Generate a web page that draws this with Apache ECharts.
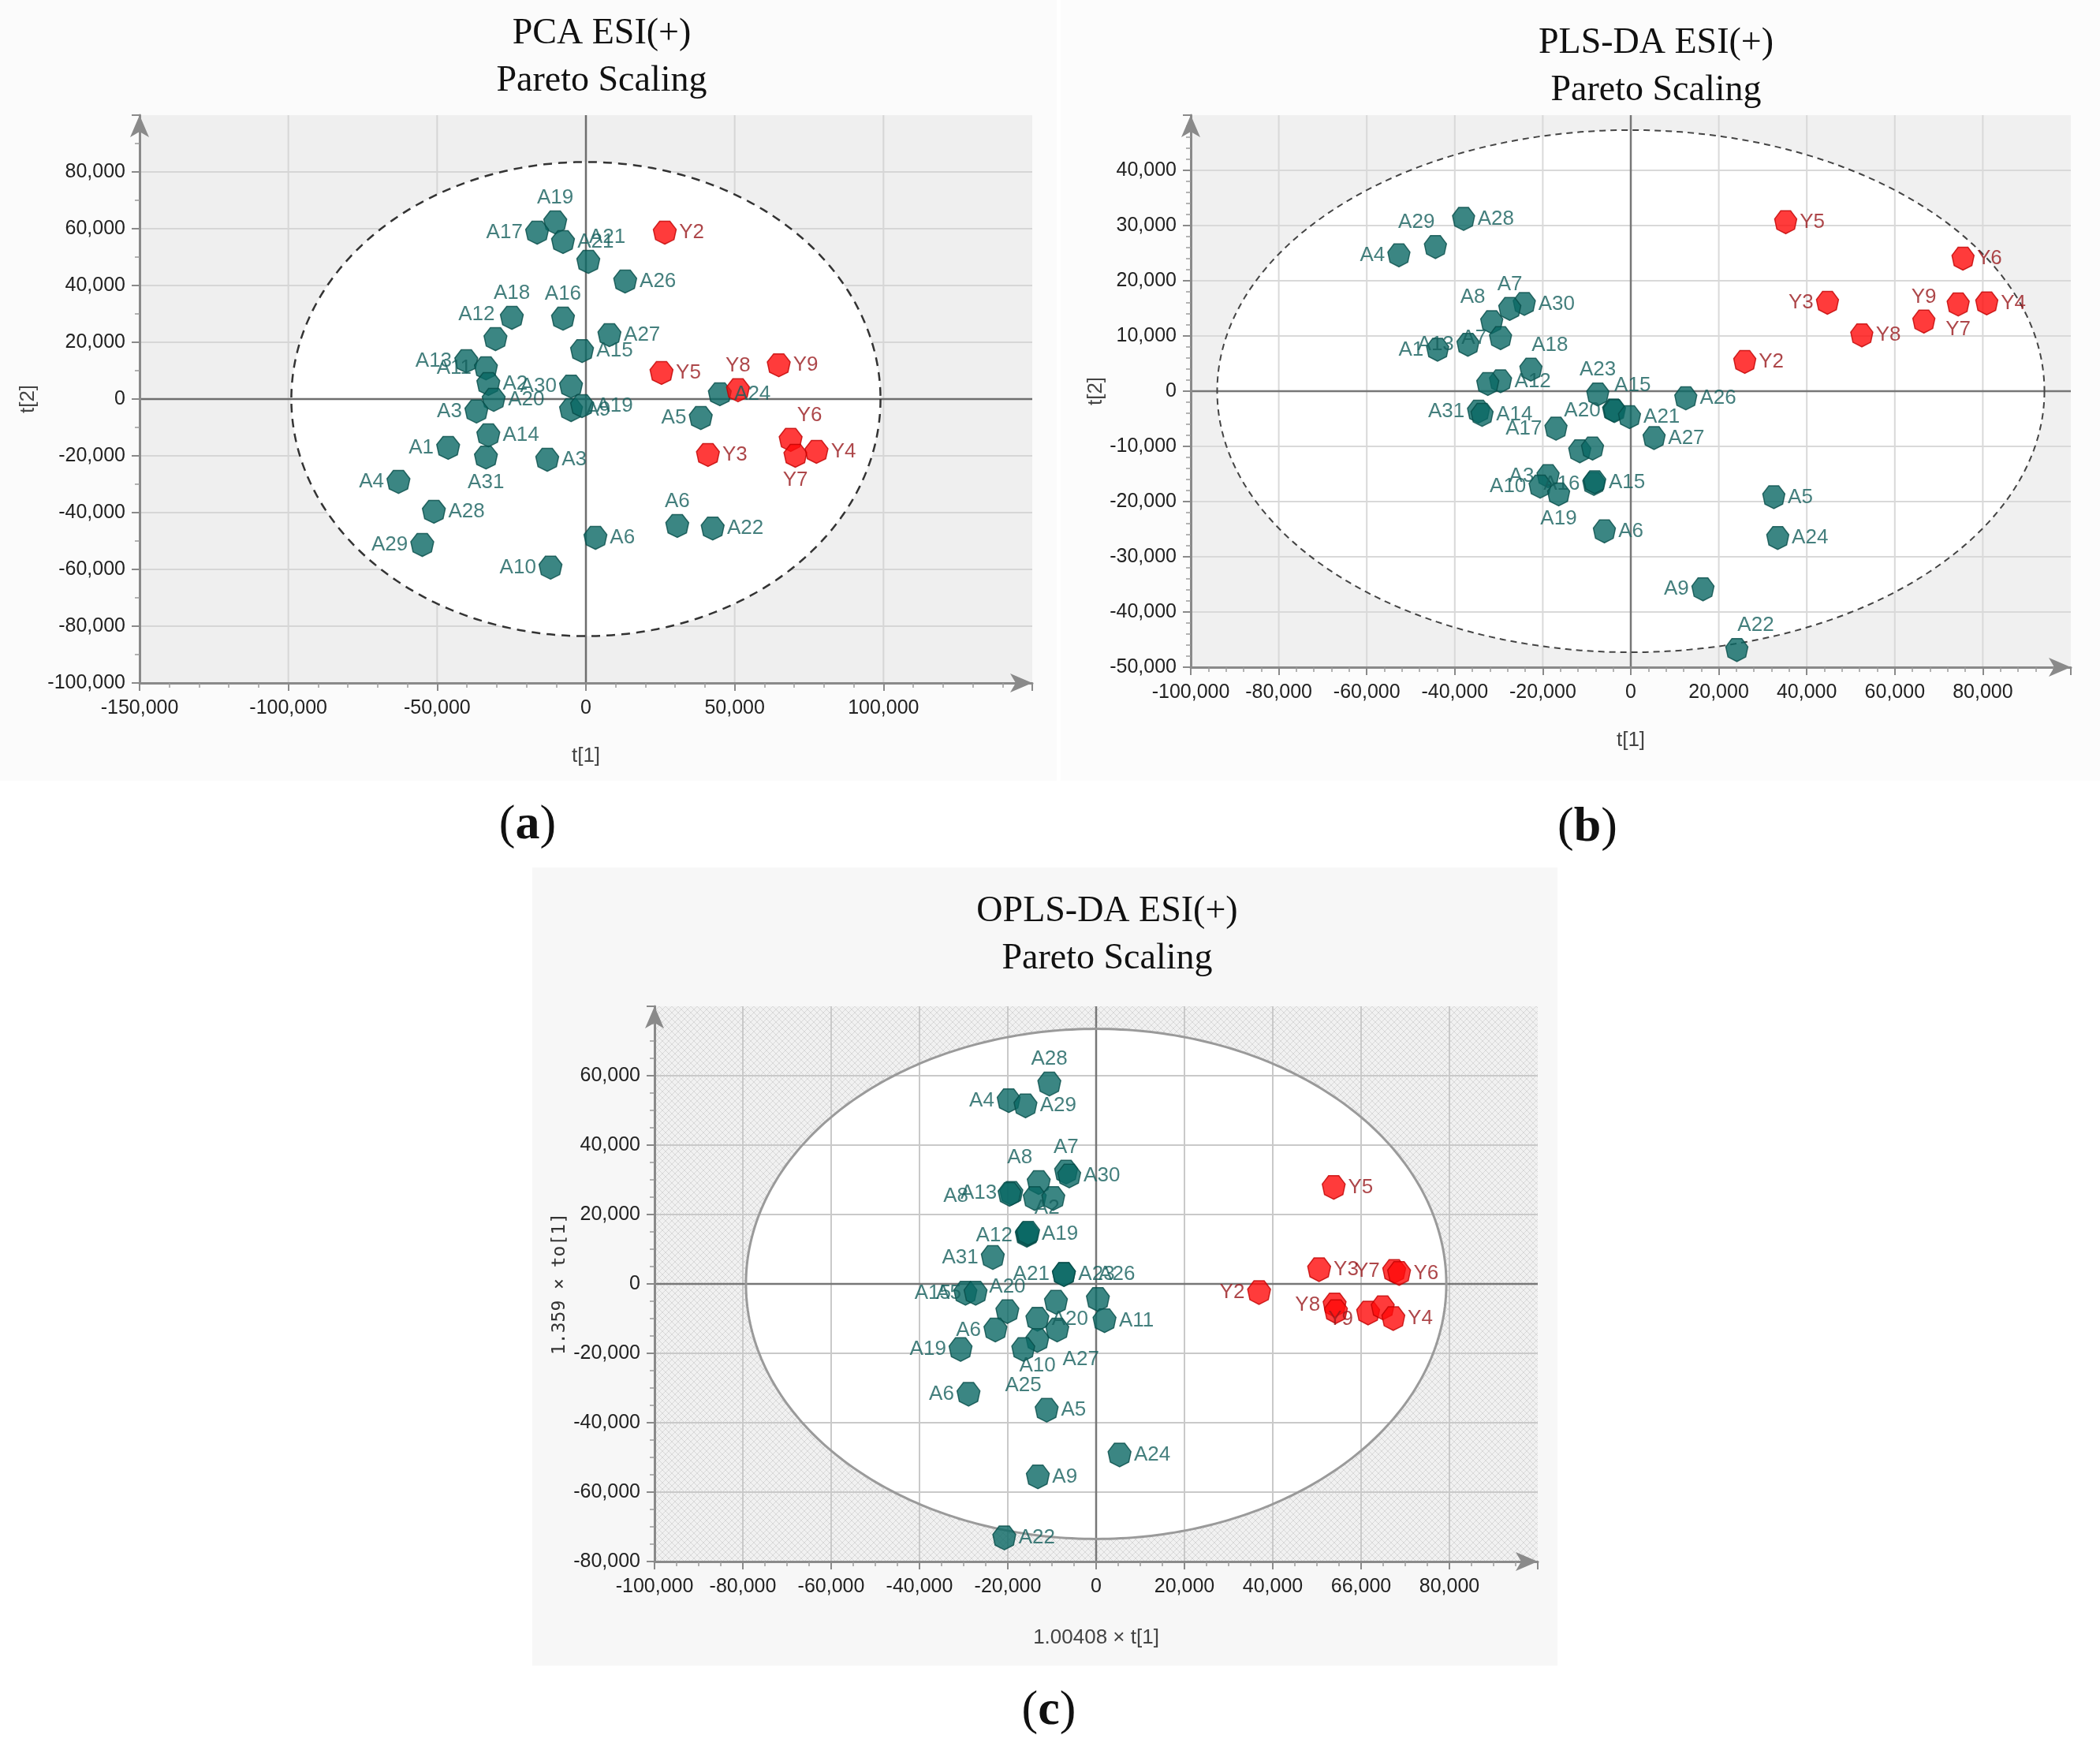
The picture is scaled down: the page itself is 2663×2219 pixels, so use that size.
<!DOCTYPE html>
<html><head><meta charset="utf-8">
<script src="https://cdn.jsdelivr.net/npm/echarts@6/dist/echarts.min.js"></script>
<style>html,body{margin:0;padding:0;background:#fff}#c{width:2663px;height:2219px}</style>
</head><body><div id="c"></div>
<script>
// ---------- DATA ----------
// (a) PCA ESI(+) scores
const pcaNames = ['A19','A17','A21','A21','A26','A18','A12','A16','A15','A27','A13','A11','A2','A20','A30','A3','A14','A31','A1','A3','A9','A19','A5','A24','A6','A22','A4','A28','A29','A6','A10','Y2','Y5','Y8','Y9','Y3','Y6','Y7','Y4'];
const pcaT1 = [-10300,-16400,-7700,800,13200,-24900,-30400,-7700,-1300,7900,-40200,-33600,-32800,-31000,-5000,-36800,-32800,-33600,-46300,-13000,-5000,-1300,38600,45000,30700,42600,-63000,-51100,-55000,3200,-11900,26500,25400,51100,64800,41000,68800,70400,77500];
const pcaT2 = [62200,58600,55300,48300,41400,28600,21100,28300,16900,22500,13300,10800,5300,-300,4400,-4400,-12800,-20600,-17200,-21400,-3900,-2500,-6700,1700,-44700,-45600,-29200,-39700,-51400,-48900,-59400,58600,9200,3100,11900,-19700,-14400,-20000,-18600];
const pcaLabelPos = ['t','l','r','tr','r','t','tl','t','r','r','l','l','r','r','l','l','r','b','l','r','r','r','l','r','t','r','l','r','l','r','l','r','r','t','r','r','tr','b','r'];
const pcaEllipse = [0, 0, 99000, 83500];   // centre t1, centre t2, half-width, half-height

// (b) PLS-DA ESI(+) scores
const plsNames = ['A29','A28','A4','A30','A7','A8','A13','A1','A7','A18','A12','A2','A31','A14','A23','A15','A20','A21','A26','A17','A27','A25','A11','A3','A10','A19','A16','A15','A6','A5','A24','A9','A22','Y5','Y6','Y3','Y9','Y7','Y4','Y8','Y2'];
const plsT1 = [-44400,-38000,-52700,-24200,-27500,-31600,-37000,-43900,-29600,-22700,-29600,-32500,-34600,-33800,-7500,-3900,-3700,-300,12500,-17000,5300,-11600,-8700,-18800,-20600,-16400,-8400,-8200,-6000,32500,33400,16400,24100,35200,75500,44700,66600,74400,80900,52500,25900];
const plsT2 = [26100,31200,24600,15800,14900,12500,8400,7500,9600,3900,1800,1300,-3700,-4300,-600,-3500,-3600,-4700,-1300,-6800,-8500,-10900,-10400,-15400,-17300,-18700,-16800,-16500,-25400,-19200,-26600,-35900,-46900,30600,24000,16000,12600,15700,15900,10100,5300];
const plsLabelPos = ['tl','r','l','r','t','tl','l','l','l','tr','r','h','l','r','t','tr','l','r','r','l','r','h','h','l','l','b','l','r','r','r','r','l','tr','r','r','l','t','b','r','r','r'];
const plsEllipse = [0, 0, 94000, 47300];

// (c) OPLS-DA ESI(+) scores
const oplsNames = ['A28','A4','A29','A7','A30','A8','A13','A8','A16','A14','A12','A19','A2','A31','A21','A23','A26','A11','A15','A5','A20','A6','A19','A20','A3','A27','A10','A25','A6','A5','A24','A9','A22','Y5','Y2','Y3','Y7','Y6','Y8','Y9','Y','Y','Y4'];
const oplsT1 = [-10600,-19800,-16000,-6800,-6100,-13000,-19200,-19600,-13900,-9700,-15700,-15600,-15400,-23400,-7300,-7300,400,1900,-29600,-27300,-20100,-22800,-30700,-13300,-9100,-8800,-13300,-16500,-28900,-11200,5300,-13200,-20800,53800,36900,50500,67500,68600,54000,54300,61600,64900,67300];
const oplsTo1 = [57600,52800,51300,32200,31100,29200,26100,25800,24600,24600,14000,14300,14600,7600,2700,2700,-4500,-10600,-2700,-2700,-8000,-13300,-18900,-10200,-5300,-13300,-16300,-18900,-31800,-36400,-49300,-55600,-73200,27800,-2500,4100,3600,3000,-6100,-8000,-8400,-6900,-10000];
const oplsLabelPos = ['t','l','r','t','r','tl','l','ll','h','h','l','r','tr','l','l','r','tr','r','l','l','t','l','l','r','h','br','b','bb','l','r','r','r','r','r','l','r','l','r','l','in','h','h','r'];
const oplsEllipse = [0, 0, 79300, 73500];
const oplsXTickLabels = ['-100,000','-80,000','-60,000','-40,000','-20,000','0','20,000','40,000','66,000','80,000','100,000'];

// ---------- STYLE ----------
const SANS = "'Liberation Sans',Arial,sans-serif";
const SERIF = "'Liberation Serif','Times New Roman',serif";
const HEPT = 'path://M50,100L10.9,81.2L1.3,38.9L28.3,5L71.7,5L98.7,38.9L89.1,81.2Z';
const TEAL = '#0a6864', TEAL_EDGE = '#064c49', TEAL_TXT = '#155f5c';
const RED = '#ff0a0a', RED_EDGE = '#c00000', RED_TXT = '#98181c';
const LP = {
  l:{position:'left'}, r:{position:'right'}, t:{position:'top'}, b:{position:'bottom'},
  tl:{position:'top', offset:[-24,0]}, tr:{position:'top', offset:[24,0]},
  br:{position:'bottom', offset:[30,6]}, bb:{position:'bottom', offset:[0,14]},
  ll:{position:'left', offset:[-34,2]}, in:{position:'inside', offset:[6,10]},
  h:{show:false}
};
const fmtNum = v => Number(v).toLocaleString('en-US');

function points(names, xs, ys, pos){
  return names.map((n,i)=>{
    const red = n.charAt(0)==='Y';
    const lp = LP[pos[i]] || LP.r;
    return {
      name:n, value:[xs[i], ys[i]],
      itemStyle:{color: red?RED:TEAL, borderColor: red?RED_EDGE:TEAL_EDGE, borderWidth:1.5},
      label:Object.assign({show:true, formatter:'{b}', color: red?RED_TXT:TEAL_TXT, distance:3,
        fontFamily:SANS, fontSize:26}, lp)
    };
  });
}

function backdrop(idx, ell, cfg){
  return {
    type:'custom', xAxisIndex:idx, yAxisIndex:idx, z:1, silent:true, clip:false,
    data:[[0,0]],
    renderItem(params, api){
      const cs = params.coordSys;
      const kids = [];
      kids.push({type:'rect', shape:{x:cs.x,y:cs.y,width:cs.width,height:cs.height}, style:{fill:cfg.bg}});
      const gl = [];
      for (let v = cfg.xMin + cfg.xStep; v < cfg.xMax - 1; v += cfg.xStep){
        if (v === 0) continue;
        const p = api.coord([v, 0]);
        gl.push({type:'line', shape:{x1:p[0], y1:cs.y, x2:p[0], y2:cs.y+cs.height}, style:{stroke:cfg.grid, lineWidth:2}});
      }
      for (let v = cfg.yMin + cfg.yStep; v < cfg.yMax - 1; v += cfg.yStep){
        if (v === 0) continue;
        const p = api.coord([0, v]);
        gl.push({type:'line', shape:{x1:cs.x, y1:p[1], x2:cs.x+cs.width, y2:p[1]}, style:{stroke:cfg.grid, lineWidth:2}});
      }
      const c = api.coord([ell[0], ell[1]]);
      const s = api.size([ell[2], ell[3]]);
      const pts = [];
      for (let i=0;i<360;i++){ const a=i/360*Math.PI*2; pts.push([c[0]+s[0]*Math.cos(a), c[1]+s[1]*Math.sin(a)]); }
      if (!cfg.gridOver) kids.push(...gl);
      kids.push({type:'polygon', shape:{points:pts}, style:{fill:'#ffffff'}});
      if (cfg.gridOver) kids.push(...gl);
      const z0 = api.coord([0,0]);
      kids.push({type:'line', shape:{x1:cs.x, y1:z0[1], x2:cs.x+cs.width, y2:z0[1]}, style:{stroke:cfg.zero, lineWidth:2.5}});
      kids.push({type:'line', shape:{x1:z0[0], y1:cs.y, x2:z0[0], y2:cs.y+cs.height}, style:{stroke:cfg.zero, lineWidth:2.5}});
      kids.push({type:'polygon', shape:{points:pts}, style:{fill:null, stroke:cfg.ellStroke, lineWidth:cfg.ellWidth, lineDash:cfg.dash}});
      return {type:'group', children:kids};
    }
  };
}

function axis(idx, o){
  return {
    gridIndex:idx, type:'value', min:o.min, max:o.max, interval:o.step, z:3,
    axisLine:{show:true, onZero:false, lineStyle:{color:'#8a8a8a', width:3}, symbol:['none','arrow'], symbolSize:[18,28]},
    axisTick:{show:true, length:10, lineStyle:{color:'#8a8a8a', width:2}},
    minorTick:{show:true, splitNumber:o.minor, length:6, lineStyle:{color:'#9a9a9a', width:1.5}},
    splitLine:{show:false},
    axisLabel:{fontFamily:SANS, fontSize:25, color:'#222', margin:o.margin, showMaxLabel:false, formatter:o.fmt||fmtNum},
    name:o.name, nameLocation:'middle', nameGap:o.gap,
    nameTextStyle:Object.assign({fontFamily:SANS, fontSize:26, color:'#444'}, o.nameStyle||{})
  };
}

// hatched pattern for panel (c)
const pc = document.createElement('canvas'); pc.width = 8; pc.height = 8;
const pctx = pc.getContext('2d');
pctx.fillStyle = '#f1f1f1'; pctx.fillRect(0,0,8,8);
pctx.strokeStyle = '#d8d8d8'; pctx.lineWidth = 1;
pctx.beginPath(); pctx.moveTo(0,0); pctx.lineTo(8,8); pctx.moveTo(8,0); pctx.lineTo(0,8); pctx.stroke();
const hatch = {image: pc, repeat: 'repeat'};

const chart = echarts.init(document.getElementById('c'), null, {renderer:'canvas'});

function title(x, y, l1, l2){
  return [
    {type:'text', z:100, style:{text:l1, x:x, y:y, align:'center', verticalAlign:'middle', fontFamily:SERIF, fontSize:46, fill:'#111'}},
    {type:'text', z:100, style:{text:l2, x:x, y:y+60, align:'center', verticalAlign:'middle', fontFamily:SERIF, fontSize:46, fill:'#111'}}
  ];
}
function caption(x, y, letter){
  return {type:'text', z:100, style:{text:'{p|(}{b|'+letter+'}{p|)}', x:x, y:y, align:'center', verticalAlign:'middle',
    rich:{p:{fontFamily:SERIF, fontSize:62, fill:'#111'}, b:{fontFamily:SERIF, fontSize:62, fontWeight:'bold', fill:'#111'}}}};
}

chart.setOption({
  animation:false,
  backgroundColor:'#ffffff',
  graphic:[
    {type:'rect', z:-10, shape:{x:0,y:0,width:1340,height:990}, style:{fill:'#fbfbfb'}},
    {type:'rect', z:-10, shape:{x:1345,y:0,width:1318,height:990}, style:{fill:'#fcfcfc'}},
    {type:'rect', z:-10, shape:{x:675,y:1100,width:1300,height:1012}, style:{fill:'#f7f7f7'}},
    ...title(763, 43, 'PCA ESI(+)', 'Pareto Scaling'),
    ...title(2100, 55, 'PLS-DA ESI(+)', 'Pareto Scaling'),
    ...title(1404, 1156, 'OPLS-DA ESI(+)', 'Pareto Scaling'),
    caption(669, 1047, 'a'), caption(2013, 1050, 'b'), caption(1330, 2170, 'c')
  ],
  grid:[
    {left:177, top:146, width:1132, height:720},
    {left:1510, top:146, width:1116, height:700},
    {left:830, top:1276, width:1120, height:704}
  ],
  xAxis:[
    axis(0,{min:-150000,max:150000,step:50000,minor:5,margin:20,name:'t[1]',gap:80}),
    axis(1,{min:-100000,max:100000,step:20000,minor:5,margin:20,name:'t[1]',gap:80}),
    axis(2,{min:-100000,max:100000,step:20000,minor:4,margin:20,name:'1.00408 × t[1]',gap:84,
      fmt:(v)=>oplsXTickLabels[Math.round((v+100000)/20000)]})
  ],
  yAxis:[
    axis(0,{min:-100000,max:100000,step:20000,minor:2,margin:18,name:'t[2]',gap:128}),
    axis(1,{min:-50000,max:50000,step:10000,minor:5,margin:18,name:'t[2]',gap:100}),
    axis(2,{min:-80000,max:80000,step:20000,minor:4,margin:18,name:'1.359 × to[1]',gap:108,
      nameStyle:{fontFamily:"'DejaVu Sans Mono',monospace", fontSize:23, color:'#333'}})
  ],
  series:[
    backdrop(0, pcaEllipse, {bg:'#efefef', grid:'#d6d6d6', zero:'#6e6e6e', ellStroke:'#333', ellWidth:2.5, dash:[11,8], gridOver:false,
      xMin:-150000,xMax:150000,xStep:50000,yMin:-100000,yMax:100000,yStep:20000}),
    backdrop(1, plsEllipse, {bg:'#f0f0f0', grid:'#d9d9d9', zero:'#777', ellStroke:'#444', ellWidth:2, dash:[8,6], gridOver:true,
      xMin:-100000,xMax:100000,xStep:20000,yMin:-50000,yMax:50000,yStep:10000}),
    backdrop(2, oplsEllipse, {bg:hatch, grid:'#c9c9c9', zero:'#777', ellStroke:'#9a9a9a', ellWidth:3, dash:null, gridOver:true,
      xMin:-100000,xMax:100000,xStep:20000,yMin:-80000,yMax:80000,yStep:20000}),
    {type:'scatter', xAxisIndex:0, yAxisIndex:0, z:5, symbol:HEPT, symbolSize:[29,29], data:points(pcaNames,pcaT1,pcaT2,pcaLabelPos)},
    {type:'scatter', xAxisIndex:1, yAxisIndex:1, z:5, symbol:HEPT, symbolSize:[28,29], data:points(plsNames,plsT1,plsT2,plsLabelPos)},
    {type:'scatter', xAxisIndex:2, yAxisIndex:2, z:5, symbol:HEPT, symbolSize:[29,30], data:points(oplsNames,oplsT1,oplsTo1,oplsLabelPos)}
  ]
});
</script></body></html>
